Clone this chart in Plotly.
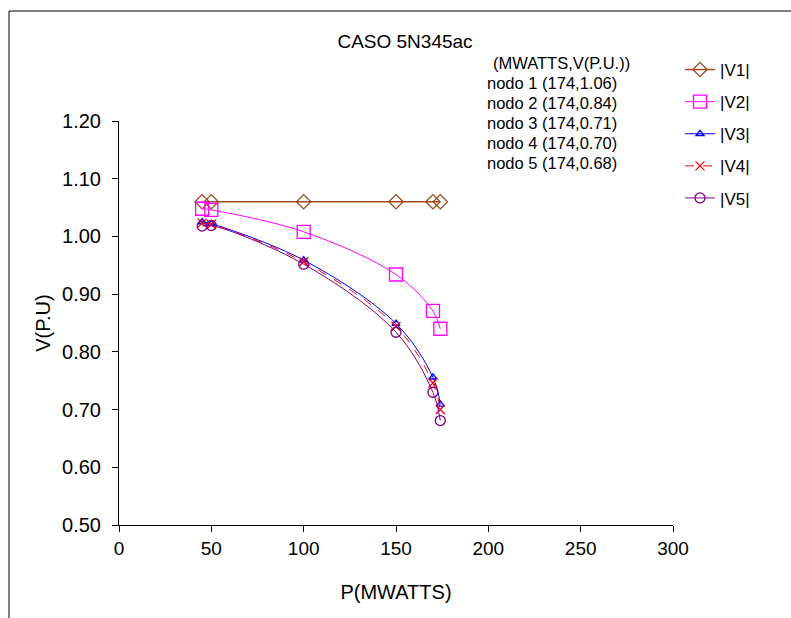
import plotly.graph_objects as go

# ---- data ----
p_mw = [45, 50, 100, 150, 170, 174]
v1 = [1.060, 1.060, 1.060, 1.060, 1.060, 1.060]
v2 = [1.048, 1.046, 1.008, 0.934, 0.871, 0.840]
v3 = [1.025, 1.022, 0.959, 0.849, 0.756, 0.709]
v4 = [1.023, 1.021, 0.956, 0.844, 0.746, 0.700]
v5 = [1.018, 1.019, 0.952, 0.834, 0.730, 0.681]
series_names = ["|V1|", "|V2|", "|V3|", "|V4|", "|V5|"]
note_header = "(MWATTS,V(P.U.))"
note_lines = ["nodo 1 (174,1.06)", "nodo 2 (174,0.84)", "nodo 3 (174,0.71)",
              "nodo 4 (174,0.70)", "nodo 5 (174,0.68)"]
x_ticks = [0, 50, 100, 150, 200, 250, 300]
y_ticks = [0.50, 0.60, 0.70, 0.80, 0.90, 1.00, 1.10, 1.20]

FONT = "Arial, Liberation Sans, sans-serif"

styles = [
    dict(color="#a0491e", symbol="diamond-open", size=11, dash="solid", width=1.5),
    dict(color="#ff00ff", symbol="square-open", size=13, dash="solid", width=1),
    dict(color="#0000ff", symbol="triangle-up-open", size=7, dash="solid", width=1),
    dict(color="#ff0000", symbol="x-thin-open", size=9, dash="dash", width=1),
    dict(color="#800080", symbol="circle-open", size=10, dash="solid", width=1),
]

fig = go.Figure()
for i, (name, ys) in enumerate(zip(series_names, [v1, v2, v3, v4, v5])):
    s = styles[i]
    fig.add_trace(go.Scatter(
        x=p_mw, y=ys, name=name, mode="lines+markers",
        legendgroup=name,
        line=dict(color=s["color"], width=s["width"], dash=s["dash"],
                  shape="spline", smoothing=1.0),
        marker=dict(symbol=s["symbol"], size=s["size"], color=s["color"],
                    line=dict(color=s["color"], width=1.3)),
    ))

W, H = 791, 618
L, R, T, B = 119, 673, 121, 525
pw, ph = R - L, B - T

def px_x(px):
    return (px - L) / pw

def px_y(py):
    return (B - py) / ph

annotations = [dict(text=note_header, x=px_x(561), y=px_y(63), xref="paper", yref="paper",
                    xanchor="center", yanchor="middle", showarrow=False,
                    font=dict(family=FONT, size=16.5, color="black"))]
for k, t in enumerate(note_lines):
    annotations.append(dict(text=t, x=px_x(485), y=px_y(82.5 + 20 * k), xref="paper", yref="paper",
                            xanchor="left", yanchor="middle", showarrow=False,
                            font=dict(family=FONT, size=16.5, color="black")))

fig.update_layout(
    width=W, height=H,
    margin=dict(l=L, r=W - R, t=T, b=H - B, pad=0),
    paper_bgcolor="white", plot_bgcolor="white",
    font=dict(family=FONT, color="black"),
    title=dict(text="CASO 5N345ac", x=px_x(405), xref="paper", xanchor="center",
               y=1 - 41 / H, yref="container", yanchor="middle",
               font=dict(family=FONT, size=19, color="black")),
    xaxis=dict(range=[0, 300], tickvals=x_ticks, ticktext=[str(v) for v in x_ticks],
               showgrid=False, zeroline=False, showline=True, linecolor="black", linewidth=1,
               ticks="outside", ticklen=6, tickcolor="black",
               tickfont=dict(family=FONT, size=19, color="black"),
               title=dict(text="P(MWATTS)", standoff=27,
                          font=dict(family=FONT, size=20, color="black"))),
    yaxis=dict(range=[0.5, 1.2], tickvals=y_ticks, ticktext=[f"{v:.2f}" for v in y_ticks],
               showgrid=False, zeroline=False, showline=True, linecolor="black", linewidth=1,
               ticks="outside", ticklen=6, tickcolor="black", ticklabelstandoff=7,
               tickfont=dict(family=FONT, size=20, color="black"),
               title=dict(text="V(P.U)", standoff=6,
                          font=dict(family=FONT, size=20, color="black"))),
    legend=dict(x=px_x(680), y=px_y(52), xanchor="left", yanchor="top",
                bgcolor="rgba(0,0,0,0)", tracegroupgap=7,
                font=dict(family=FONT, size=17, color="black")),
    annotations=annotations,
    shapes=[dict(type="rect", xref="paper", yref="paper",
                 x0=px_x(9), x1=px_x(900), y0=px_y(700), y1=px_y(11),
                 line=dict(color="black", width=1), fillcolor="rgba(0,0,0,0)", layer="below")],
)

fig.write_html("out.html")
